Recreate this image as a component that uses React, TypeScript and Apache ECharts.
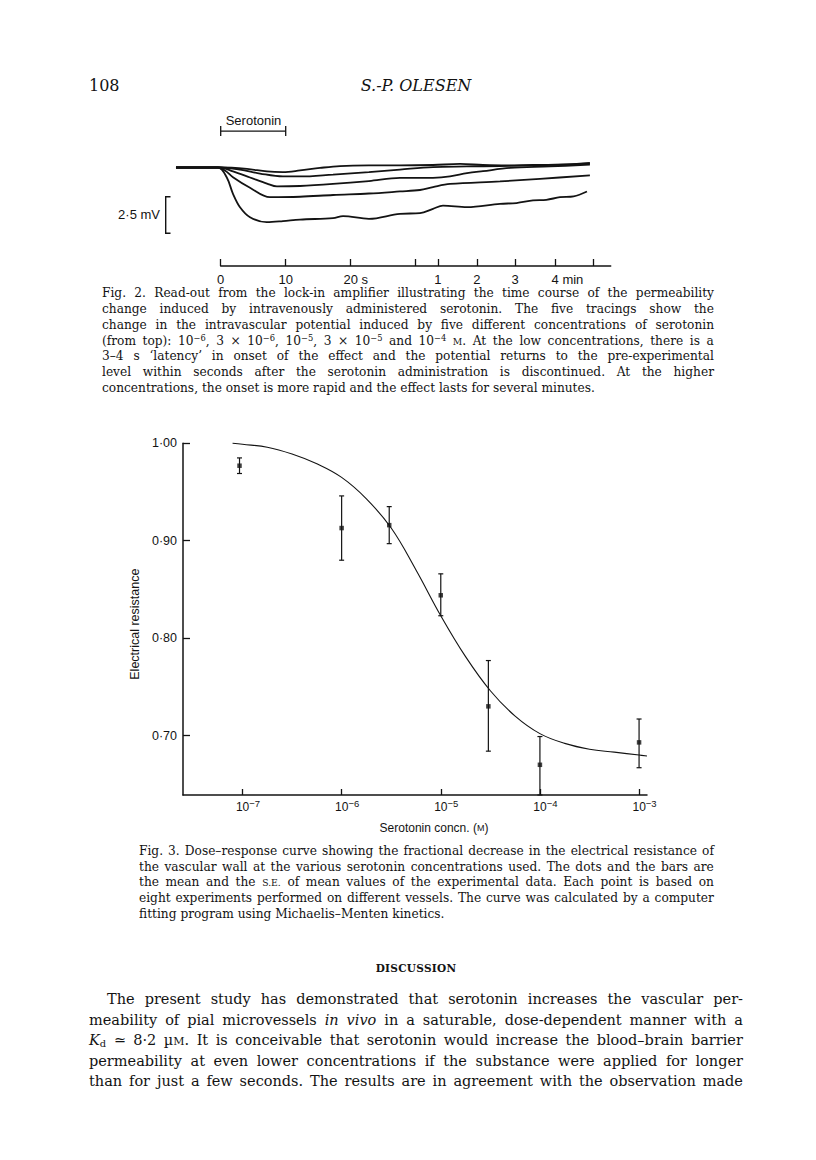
import React, { useEffect, useRef } from "react";
import * as echarts from "echarts";

const INK = "#131313";
const SANS = "Liberation Sans, Arial, sans-serif";
const SERIF = "DejaVu Serif, serif";

// ---------------- Fig. 2 data (time in s-equivalent display units, potential in mV) ----------------
const trace1: [number, number][] = [[-6.88, 0], [-0.11, 0], [4.05, -0.1], [7.12, -0.27], [9.58, -0.31], [12.2, -0.2], [15.28, -0.03], [18.35, 0.1], [22.8, 0.14], [27.58, 0.14], [32.66, 0.17], [36.82, 0.24], [40.35, 0.17], [44.05, 0.14], [48.05, 0.17], [53.28, 0.2], [56.8, 0.31]];
const trace2: [number, number][] = [[-6.88, 0], [-0.11, 0], [2.97, -0.14], [6.05, -0.41], [9.58, -0.61], [12.2, -0.61], [17.28, -0.48], [22.8, -0.31], [27.58, -0.14], [32.66, 0.03], [37.89, 0.07], [42.97, 0.1], [48.05, 0.14], [56.8, 0.27]];
const trace3: [number, number][] = [[-6.88, 0], [-0.11, 0], [1.89, -0.27], [4.51, -0.68], [7.12, -1.09], [8.66, -1.29], [12.2, -1.26], [17.28, -1.12], [22.8, -0.92], [27.58, -0.71], [32.66, -0.7], [35.28, -0.61], [37.89, -0.39], [40.35, -0.25], [44.51, -0.03], [50.66, 0.07], [56.8, 0.2]];
const trace4: [number, number][] = [[-6.88, 0], [-0.42, 0], [0.66, -0.2], [1.89, -0.66], [4.51, -1.38], [7.58, -2.02], [12.2, -1.99], [17.28, -1.87], [22.8, -1.77], [27.58, -1.63], [30.66, -1.53], [32.66, -1.33], [35.28, -1.12], [42.97, -0.95], [49.12, -0.77], [56.8, -0.54]];
const trace5: [number, number][] = [[-6.88, 0], [-0.42, 0], [0.92, -0.66], [1.89, -1.79], [2.97, -2.7], [4.51, -3.38], [7.08, -3.72], [9.58, -3.65], [12.2, -3.54], [17.28, -3.45], [18.82, -3.31], [22.8, -3.49], [27.58, -3.15], [30.66, -3.11], [32.66, -2.81], [34.2, -2.59], [37.89, -2.7], [42.97, -2.47], [45.5, -2.42], [48.05, -2.24], [50.1, -2.2], [52.2, -2.02], [54.3, -1.96], [56.35, -1.63]];
const traces = [trace1, trace2, trace3, trace4, trace5];
const serotoninPulse = [0, 10];
const pulseLevel = 2.48;
const timeTicks = [0, 10, 20, 30, 33.4, 39.4, 45.3, 51.5, 57.3];
const timeTickLabels = ["0", "10", "20 s", "", "1", "2", "3", "4 min", ""];

// ---------------- Fig. 3 data ----------------
const doseLog10 = [-7.03, -6.0, -5.52, -5.0, -4.52, -4.0, -3.0];
const resistanceMean = [0.977, 0.913, 0.916, 0.844, 0.73, 0.67, 0.693];
const resistanceUpper = [0.985, 0.946, 0.935, 0.866, 0.777, 0.699, 0.717];
const resistanceLower = [0.969, 0.88, 0.897, 0.823, 0.684, 0.639, 0.667];
const fitDoseLog10 = [-7.1, -7.0, -6.75, -6.5, -6.25, -6.0, -5.75, -5.5, -5.25, -5.0, -4.75, -4.5, -4.25, -4.0, -3.75, -3.5, -3.25, -3.0, -2.92];
const fitResistance = [1.0, 0.999, 0.996, 0.989, 0.979, 0.965, 0.943, 0.913, 0.87, 0.823, 0.781, 0.746, 0.72, 0.702, 0.692, 0.686, 0.683, 0.68, 0.679];
const doseTicks = [-7, -6, -5, -4, -3];
const resistanceTicks = [0.7, 0.8, 0.9, 1.0];

// ---------------- Page text ----------------
const fig2Caption = [
  "Fig. 2. Read-out from the lock-in amplifier illustrating the time course of the permeability",
  "change induced by intravenously administered serotonin. The five tracings show the",
  "change in the intravascular potential induced by five different concentrations of serotonin",
  "(from top): 10^{−6}, 3 × 10^{−6}, 10^{−5}, 3 × 10^{−5} and 10^{−4} ~M~. At the low concentrations, there is a",
  "3–4 s ‘latency’ in onset of the effect and the potential returns to the pre-experimental",
  "level within seconds after the serotonin administration is discontinued. At the higher",
  "concentrations, the onset is more rapid and the effect lasts for several minutes.",
];
const fig3Caption = [
  "Fig. 3. Dose–response curve showing the fractional decrease in the electrical resistance of",
  "the vascular wall at the various serotonin concentrations used. The dots and the bars are",
  "the mean and the ~S.E.~ of mean values of the experimental data. Each point is based on",
  "eight experiments performed on different vessels. The curve was calculated by a computer",
  "fitting program using Michaelis–Menten kinetics.",
];
const discussion = [
  "The present study has demonstrated that serotonin increases the vascular per-",
  "meability of pial microvessels *in* *vivo* in a saturable, dose-dependent manner with a",
  "*K*_{d} ≃ 8·2 µ~M~. It is conceivable that serotonin would increase the blood–brain barrier",
  "permeability at even lower concentrations if the substance were applied for longer",
  "than for just a few seconds. The results are in agreement with the observation made",
];

function parseMarkup(s: string, keyBase: string) {
  const parts = s.split(/(\^\{[^}]*\}|_\{[^}]*\}|\*[^*]*\*|~[^~]*~)/).filter((p) => p !== "");
  return parts.map((p, i) => {
    const k = keyBase + "-" + i;
    if (p.startsWith("^{")) return <sup key={k} style={{ fontSize: "0.68em", verticalAlign: "0.5em", lineHeight: 0 }}>{p.slice(2, -1)}</sup>;
    if (p.startsWith("_{")) return <sub key={k} style={{ fontSize: "0.68em", verticalAlign: "-0.25em", lineHeight: 0 }}>{p.slice(2, -1)}</sub>;
    if (p.startsWith("*")) return <i key={k}>{p.slice(1, -1)}</i>;
    if (p.startsWith("~")) return <span key={k} style={{ fontSize: "0.76em" }}>{p.slice(1, -1)}</span>;
    return <React.Fragment key={k}>{p}</React.Fragment>;
  });
}

type BlockProps = { lines: string[]; left: number; right: number; top: number; lh: number; fs: number; indent?: number; lastJustified?: boolean };

function TextBlock({ lines, left, right, top, lh, fs, indent = 0, lastJustified = false }: BlockProps) {
  return (
    <>
      {lines.map((line, li) => {
        const justify = li < lines.length - 1 || lastJustified;
        const l = left + (li === 0 ? indent : 0);
        const words = line.split(" ");
        return (
          <div
            key={li}
            style={{
              position: "absolute",
              left: l,
              top: top + li * lh,
              width: right - l,
              height: lh,
              lineHeight: lh + "px",
              fontSize: fs,
              fontFamily: SERIF,
              color: INK,
              whiteSpace: "nowrap",
              display: "flex",
              justifyContent: justify ? "space-between" : "flex-start",
              columnGap: justify ? 0 : "0.32em",
            }}
          >
            {words.map((w, wi) => (
              <span key={wi}>
                {parseMarkup(w, li + "-" + wi)}
                {wi < words.length - 1 ? " " : ""}
              </span>
            ))}
          </div>
        );
      })}
    </>
  );
}

function buildOption() {
  const timeLabelValues = timeTicks.filter((_, i) => timeTickLabels[i] !== "");
  const axisLine = { show: true, lineStyle: { color: INK, width: 1.5 } };
  return {
    animation: false,
    backgroundColor: "#ffffff",
    textStyle: { fontFamily: SANS, color: INK },
    grid: [
      { left: 175.2, top: 123.4, width: 435.5, height: 102.9 },
      { left: 220.7, top: 265, width: 390, height: 1 },
      { left: 183, top: 443.3, width: 464, height: 351.7 },
    ],
    xAxis: [
      { gridIndex: 0, type: "value", min: -7, max: 60, show: false },
      {
        gridIndex: 1,
        type: "value",
        min: 0,
        max: 60,
        axisLine,
        splitLine: { show: false },
        axisTick: { show: true, inside: true, length: 7, customValues: timeTicks, lineStyle: { color: INK, width: 1.3 } },
        axisLabel: {
          show: true,
          customValues: timeLabelValues,
          margin: 7,
          color: INK,
          fontSize: 13,
          fontFamily: SANS,
          formatter: (v: number) => {
            const i = timeTicks.findIndex((t) => Math.abs(t - v) < 1e-6);
            const s = i >= 0 ? timeTickLabels[i] : "";
            if (s === "20 s") return "{a|20}{u| s}";
            if (s === "4 min") return "{b|4}{u| min}";
            return s;
          },
          rich: {
            a: { fontSize: 13, fontFamily: SANS, color: INK, padding: [0, 0, 0, 10] },
            b: { fontSize: 13, fontFamily: SANS, color: INK, padding: [0, 0, 0, 24] },
            u: { fontSize: 13, fontFamily: SANS, color: INK },
          },
        },
      },
      {
        gridIndex: 2,
        type: "value",
        min: -7.6,
        max: -2.92,
        axisLine,
        splitLine: { show: false },
        axisTick: { show: true, inside: true, length: 6, customValues: doseTicks, lineStyle: { color: INK, width: 1.3 } },
        axisLabel: {
          show: true,
          customValues: doseTicks,
          margin: 3,
          color: INK,
          formatter: (v: number) => `{b|10}{s|−${Math.round(-v)}}`,
          rich: {
            b: { fontSize: 12, fontFamily: SANS, color: INK, lineHeight: 17, padding: [0, 0, 0, 11] },
            s: { fontSize: 9.5, fontFamily: SANS, color: INK, lineHeight: 10, verticalAlign: "top" },
          },
        },
        name: "Serotonin concn. ({sc|M})",
        nameLocation: "middle",
        nameGap: 27,
        nameTextStyle: {
          fontSize: 12,
          fontFamily: SANS,
          color: INK,
          padding: [0, 0, 0, 38],
          rich: { sc: { fontSize: 9, fontFamily: SANS, color: INK } },
        },
      },
    ],
    yAxis: [
      { gridIndex: 0, type: "value", min: -4, max: 3, show: false },
      { gridIndex: 1, type: "value", min: 0, max: 1, show: false },
      {
        gridIndex: 2,
        type: "value",
        min: 0.639,
        max: 1.0,
        axisLine,
        splitLine: { show: false },
        axisTick: { show: true, inside: true, length: 7, customValues: resistanceTicks, lineStyle: { color: INK, width: 1.3 } },
        axisLabel: {
          show: true,
          customValues: resistanceTicks,
          margin: 6,
          color: INK,
          fontSize: 12.5,
          fontFamily: SANS,
          formatter: (v: number) => v.toFixed(2).replace(".", "·"),
        },
        name: "Electrical resistance",
        nameLocation: "middle",
        nameGap: 40,
        nameTextStyle: { fontSize: 12.5, fontFamily: SANS, color: INK, padding: [0, 10, 0, 0] },
      },
    ],
    graphic: [
      {
        type: "polyline",
        shape: { points: [[170.5, 196.7], [165.7, 196.7], [165.7, 233.3], [170.5, 233.3]] },
        style: { stroke: INK, lineWidth: 1.4, fill: "none" },
      },
      {
        type: "text",
        x: 160,
        y: 214.5,
        style: { text: "2·5 mV", fontSize: 13, fontFamily: SANS, fill: INK, align: "right", verticalAlign: "middle" },
      },
    ],
    series: [
      ...traces.map((t) => ({
        type: "line",
        xAxisIndex: 0,
        yAxisIndex: 0,
        data: t,
        smooth: 0.35,
        showSymbol: false,
        clip: false,
        lineStyle: { color: INK, width: 1.8 },
      })),
      {
        type: "custom",
        xAxisIndex: 0,
        yAxisIndex: 0,
        clip: false,
        data: [[serotoninPulse[0], serotoninPulse[1], pulseLevel]],
        renderItem: (_p: any, api: any) => {
          const a = api.coord([api.value(0), api.value(2)]);
          const b = api.coord([api.value(1), api.value(2)]);
          const st = { stroke: INK, lineWidth: 1.3 };
          return {
            type: "group",
            children: [
              { type: "line", shape: { x1: a[0], y1: a[1], x2: b[0], y2: b[1] }, style: st },
              { type: "line", shape: { x1: a[0], y1: a[1] - 5, x2: a[0], y2: a[1] + 5 }, style: st },
              { type: "line", shape: { x1: b[0], y1: b[1] - 5, x2: b[0], y2: b[1] + 5 }, style: st },
              { type: "text", x: a[0] + 5, y: a[1] - 11, style: { text: "Serotonin", fontSize: 13, fontFamily: SANS, fill: INK, verticalAlign: "middle" } },
            ],
          };
        },
      },
      {
        type: "line",
        xAxisIndex: 2,
        yAxisIndex: 2,
        data: fitDoseLog10.map((x, i) => [x, fitResistance[i]]),
        smooth: 0.4,
        showSymbol: false,
        clip: false,
        lineStyle: { color: INK, width: 1.1 },
      },
      {
        type: "custom",
        xAxisIndex: 2,
        yAxisIndex: 2,
        clip: false,
        data: doseLog10.map((x, i) => [x, resistanceLower[i], resistanceUpper[i]]),
        renderItem: (_p: any, api: any) => {
          const lo = api.coord([api.value(0), api.value(1)]);
          const hi = api.coord([api.value(0), api.value(2)]);
          const cw = 2.5;
          const st = { stroke: INK, lineWidth: 1.2 };
          return {
            type: "group",
            children: [
              { type: "line", shape: { x1: lo[0], y1: lo[1], x2: hi[0], y2: hi[1] }, style: st },
              { type: "line", shape: { x1: hi[0] - cw, y1: hi[1], x2: hi[0] + cw, y2: hi[1] }, style: st },
              { type: "line", shape: { x1: lo[0] - cw, y1: lo[1], x2: lo[0] + cw, y2: lo[1] }, style: st },
            ],
          };
        },
      },
      {
        type: "scatter",
        xAxisIndex: 2,
        yAxisIndex: 2,
        data: doseLog10.map((x, i) => [x, resistanceMean[i]]),
        symbol: "rect",
        symbolSize: 4.5,
        itemStyle: { color: INK },
      },
    ],
  };
}

export default function App() {
  const ref = useRef<HTMLDivElement>(null);
  useEffect(() => {
    if (!ref.current) return;
    const chart = echarts.init(ref.current, undefined, { renderer: "svg" });
    chart.setOption(buildOption() as any);
    return () => chart.dispose();
  }, []);

  return (
    <div style={{ position: "absolute", left: 0, top: 0, width: 816, height: 1160, background: "#fff", overflow: "hidden" }}>
      <div ref={ref} style={{ position: "absolute", left: 0, top: 0, width: 816, height: 1160 }} />
      <div style={{ position: "absolute", left: 89, top: 76, fontFamily: SERIF, fontSize: 16, color: INK, lineHeight: "20px" }}>108</div>
      <div style={{ position: "absolute", left: 316, width: 200, top: 76, textAlign: "center", fontFamily: SERIF, fontStyle: "italic", fontSize: 16, color: INK, lineHeight: "20px" }}>S.-P. OLESEN</div>
      <TextBlock lines={fig2Caption} left={102} right={714} top={286} lh={15.85} fs={12.2} />
      <TextBlock lines={fig3Caption} left={139} right={714} top={844} lh={15.65} fs={12.2} />
      <div style={{ position: "absolute", left: 316, width: 200, top: 960, textAlign: "center", fontFamily: SERIF, fontSize: 10.5, fontWeight: "bold", letterSpacing: 0.3, color: INK, lineHeight: "16px" }}>DISCUSSION</div>
      <TextBlock lines={discussion} left={89} right={743} top={989} lh={20.6} fs={14.5} indent={18} lastJustified />
    </div>
  );
}
